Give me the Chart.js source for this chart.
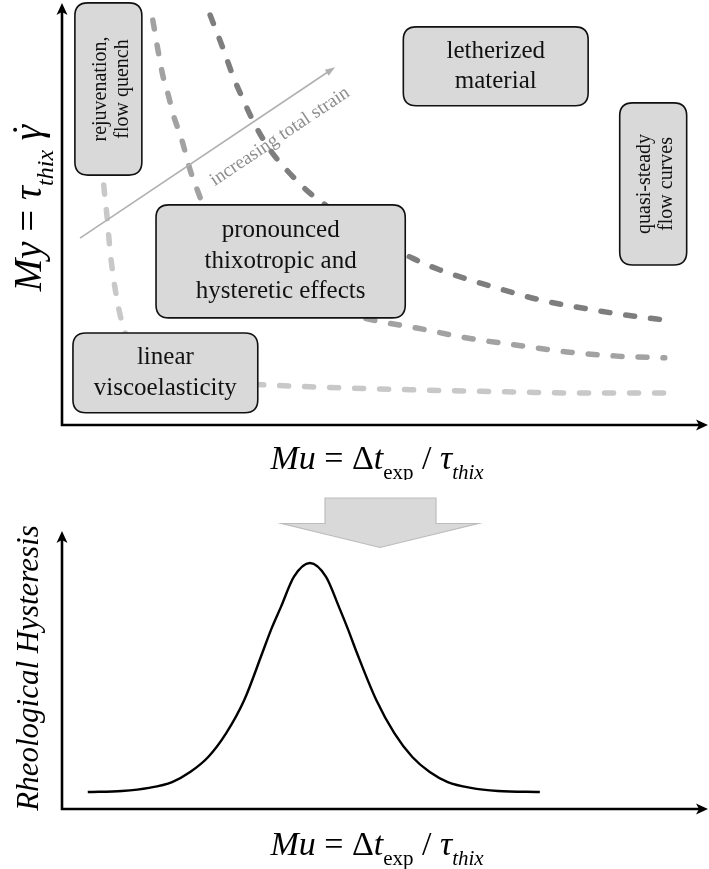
<!DOCTYPE html>
<html>
<head>
<meta charset="utf-8">
<script src="https://cdn.jsdelivr.net/npm/chart.js@4.4.1/dist/chart.umd.min.js"></script>
<style>
  html, body { margin: 0; padding: 0; background: #fff; }
  #wrap { position: relative; width: 709px; height: 869px; overflow: hidden; }
  canvas { position: absolute; left: 0; display: block; }
  #mapChart { top: 0; }
  #hystChart { top: 480px; }
</style>
</head>
<body>
<div id="wrap">
  <canvas id="mapChart" width="709" height="480"></canvas>
  <canvas id="hystChart" width="709" height="389"></canvas>
</div>
<script>
// Mu (x) and My (y) on relative 0–100 scales.
// Iso-strain contours, from low to high total strain.
const lowStrainMu  = [5.9, 6.4, 7.0, 7.5, 8.2, 9.3, 11.3, 15.2, 21.4, 32.3, 44.3, 56.7, 69.1, 81.5, 93.6];
const lowStrainMy  = [75.0, 59.0, 49.5, 41.0, 32.9, 24.5, 17.4, 12.6, 10.5, 9.5, 8.8, 8.3, 7.9, 7.6, 7.6];
const midStrainMu  = [14.1, 14.9, 15.7, 16.5, 17.2, 18.6, 19.9, 21.0, 23.0, 26.1, 30.8, 37.0, 43.2, 49.8, 55.1, 62.9, 70.7, 78.4, 86.2, 93.6];
const midStrainMy  = [96.4, 89.3, 82.9, 78.6, 74.3, 67.9, 60.7, 56.0, 48.3, 41.7, 35.0, 30.2, 26.9, 24.5, 23.1, 20.7, 19.0, 17.4, 16.4, 16.0];
const highStrainMu = [23.0, 24.8, 26.6, 28.3, 30.0, 32.3, 34.9, 38.5, 40.5, 43.9, 47.8, 54.3, 58.7, 66.5, 74.2, 82.5, 89.8, 93.6];
const highStrainMy = [97.6, 90.5, 82.9, 76.9, 71.4, 65.5, 60.7, 55.2, 52.9, 48.8, 45.2, 39.8, 36.9, 33.1, 29.8, 27.4, 25.7, 25.0];

// Rheological hysteresis versus Mu.
const hystMu    = [4.0, 9.3, 13.5, 17.1, 19.9, 22.7, 25.5, 28.3, 31.1, 32.5, 34.0, 36.0, 38.5, 41.0, 43.0, 44.4, 45.8, 48.8, 51.6, 54.4, 57.1, 59.9, 63.5, 67.7, 74.2];
const hystValue = [6.1, 6.5, 7.6, 9.7, 13.3, 18.7, 27.3, 39.2, 56.1, 64.7, 72.7, 83.5, 88.5, 83.5, 72.7, 64.7, 56.1, 39.2, 27.3, 18.7, 13.3, 9.7, 7.6, 6.5, 6.1];

// Regime labels and their extents in (Mu, My) units.
const regimeLabels = [
  { lines: ['rejuvenation,', 'flow quench'], vertical: true,  x1: 2.0,  x2: 12.4, y1: 59.5, y2: 100.5 },
  { lines: ['letherized', 'material'],        vertical: false, x1: 53.0, x2: 81.7, y1: 76.0, y2: 94.8 },
  { lines: ['quasi-steady', 'flow curves'],   vertical: true,  x1: 86.6, x2: 97.0, y1: 38.1, y2: 76.7 },
  { lines: ['pronounced', 'thixotropic and', 'hysteretic effects'], vertical: false, x1: 14.6, x2: 53.3, y1: 25.5, y2: 52.4 },
  { lines: ['linear', 'viscoelasticity'],     vertical: false, x1: 1.7,  x2: 30.4, y1: 2.9,  y2: 21.9 }
];
// Direction of increasing total strain, in (Mu, My) units.
const strainArrow = { from: [2.8, 44.5], to: [42.4, 85.2], text: 'increasing total strain' };

const SERIF = '"Liberation Serif", "Times New Roman", Times, serif';

function pts(xs, ys) { return xs.map((x, i) => ({ x, y: ys[i] })); }

function fontFor(seg, size) {
  const s = seg.sub ? Math.round(size * 0.62) : size;
  return (seg.it ? 'italic ' : '') + s + 'px ' + SERIF;
}

// Draws a run of mixed italic / subscript segments centred at (cx, cy).
function richText(ctx, segs, size, cx, cy, rot) {
  ctx.save();
  ctx.translate(cx, cy);
  ctx.rotate(rot);
  ctx.fillStyle = '#000';
  ctx.textBaseline = 'alphabetic';
  ctx.textAlign = 'left';
  const widths = segs.map(s => { ctx.font = fontFor(s, size); return ctx.measureText(s.t).width; });
  const total = widths.reduce((a, b) => a + b, 0);
  let x = -total / 2;
  const base = size * 0.33;
  segs.forEach((s, i) => {
    ctx.font = fontFor(s, size);
    ctx.fillText(s.t, x, base + (s.sub ? size * 0.3 : 0));
    if (s.dot) {
      ctx.beginPath();
      ctx.arc(x + widths[i] * 0.68, base - size * 0.66, size * 0.05, 0, Math.PI * 2);
      ctx.fill();
    }
    x += widths[i];
  });
  ctx.restore();
}

function drawAxes(ctx, left, bottom, tipTop, tipRight) {
  ctx.save();
  ctx.strokeStyle = '#000';
  ctx.fillStyle = '#000';
  ctx.lineWidth = 2.6;
  ctx.beginPath();
  ctx.moveTo(left, bottom + 1.3);
  ctx.lineTo(left, tipTop + 8);
  ctx.moveTo(left - 1.3, bottom);
  ctx.lineTo(tipRight - 8, bottom);
  ctx.stroke();
  ctx.beginPath();
  ctx.moveTo(left, tipTop);
  ctx.lineTo(left - 5.5, tipTop + 12);
  ctx.lineTo(left, tipTop + 9);
  ctx.lineTo(left + 5.5, tipTop + 12);
  ctx.closePath();
  ctx.fill();
  ctx.beginPath();
  ctx.moveTo(tipRight, bottom);
  ctx.lineTo(tipRight - 12, bottom - 5.5);
  ctx.lineTo(tipRight - 9, bottom);
  ctx.lineTo(tipRight - 12, bottom + 5.5);
  ctx.closePath();
  ctx.fill();
  ctx.restore();
}

function roundRect(ctx, x, y, w, h, r) {
  ctx.beginPath();
  ctx.moveTo(x + r, y);
  ctx.lineTo(x + w - r, y);
  ctx.quadraticCurveTo(x + w, y, x + w, y + r);
  ctx.lineTo(x + w, y + h - r);
  ctx.quadraticCurveTo(x + w, y + h, x + w - r, y + h);
  ctx.lineTo(x + r, y + h);
  ctx.quadraticCurveTo(x, y + h, x, y + h - r);
  ctx.lineTo(x, y + r);
  ctx.quadraticCurveTo(x, y, x + r, y);
  ctx.closePath();
}

const muLabel = [
  { t: 'Mu', it: true }, { t: ' = ' }, { t: 'Δ' }, { t: 't', it: true },
  { t: 'exp', sub: true }, { t: ' / ' }, { t: 'τ', it: true }, { t: 'thix', it: true, sub: true }
];

const mapDecor = {
  id: 'mapDecor',
  afterDatasetsDraw(chart) {
    const { ctx, chartArea: a, scales: { x, y } } = chart;

    // strain direction arrow
    const x0 = x.getPixelForValue(strainArrow.from[0]), y0 = y.getPixelForValue(strainArrow.from[1]);
    const x1 = x.getPixelForValue(strainArrow.to[0]),   y1 = y.getPixelForValue(strainArrow.to[1]);
    const ang = Math.atan2(y1 - y0, x1 - x0);
    const len = Math.hypot(x1 - x0, y1 - y0);
    ctx.save();
    ctx.translate(x0, y0);
    ctx.rotate(ang);
    ctx.strokeStyle = '#b0b0b0';
    ctx.fillStyle = '#b0b0b0';
    ctx.lineWidth = 1.6;
    ctx.beginPath(); ctx.moveTo(0, 0); ctx.lineTo(len - 6, 0); ctx.stroke();
    ctx.beginPath(); ctx.moveTo(len, 0); ctx.lineTo(len - 10, -3.5); ctx.lineTo(len - 10, 3.5); ctx.closePath(); ctx.fill();
    ctx.fillStyle = '#8e8e8e';
    ctx.font = '19px ' + SERIF;
    ctx.textAlign = 'center';
    ctx.textBaseline = 'middle';
    ctx.fillText(strainArrow.text, len * 0.725, 27);
    ctx.restore();

    // regime boxes
    regimeLabels.forEach(r => {
      const l = x.getPixelForValue(r.x1), rt = x.getPixelForValue(r.x2);
      const t = y.getPixelForValue(r.y2), b = y.getPixelForValue(r.y1);
      ctx.save();
      roundRect(ctx, l, t, rt - l, b - t, 13);
      ctx.fillStyle = '#d9d9d9';
      ctx.fill();
      ctx.lineWidth = 1.6;
      ctx.strokeStyle = '#111';
      ctx.stroke();
      ctx.fillStyle = '#111';
      ctx.textAlign = 'center';
      ctx.textBaseline = 'middle';
      const cx = (l + rt) / 2, cy = (t + b) / 2;
      if (r.vertical) {
        ctx.translate(cx, cy);
        ctx.rotate(-Math.PI / 2);
        ctx.font = '20px ' + SERIF;
        const lh = 22;
        r.lines.forEach((s, i) => ctx.fillText(s, 0, (i - (r.lines.length - 1) / 2) * lh + 3));
      } else {
        ctx.font = '25px ' + SERIF;
        const lh = 30.5;
        r.lines.forEach((s, i) => ctx.fillText(s, cx, cy + (i - (r.lines.length - 1) / 2) * lh));
      }
      ctx.restore();
    });

    drawAxes(ctx, a.left, a.bottom, 3, 708);

    // axis titles
    richText(ctx, muLabel, 34, 377, 458, 0);
    richText(ctx, [
      { t: 'My', it: true }, { t: ' = ' }, { t: 'τ', it: true }, { t: 'thix', it: true, sub: true },
      { t: ' ' }, { t: 'γ', it: true, dot: true }
    ], 39, 28, 208, -Math.PI / 2);
  }
};

const hystDecor = {
  id: 'hystDecor',
  afterDatasetsDraw(chart) {
    const { ctx, chartArea: a } = chart;

    // block arrow leading down from the regime map
    ctx.save();
    ctx.beginPath();
    ctx.moveTo(325, 18);
    ctx.lineTo(436, 18);
    ctx.lineTo(436, 43.5);
    ctx.lineTo(478, 43.5);
    ctx.lineTo(380, 67.5);
    ctx.lineTo(282, 43.5);
    ctx.lineTo(325, 43.5);
    ctx.closePath();
    ctx.fillStyle = '#d9d9d9';
    ctx.fill();
    ctx.strokeStyle = '#bdbdbd';
    ctx.lineWidth = 1.2;
    ctx.stroke();
    ctx.restore();

    drawAxes(ctx, a.left, a.bottom, a.top, 708);

    richText(ctx, muLabel, 34, 377, 364, 0);
    ctx.save();
    ctx.translate(30, 188);
    ctx.rotate(-Math.PI / 2);
    ctx.font = 'italic 31px ' + SERIF;
    ctx.fillStyle = '#000';
    ctx.textAlign = 'center';
    ctx.textBaseline = 'middle';
    ctx.fillText('Rheological Hysteresis', 0, 0);
    ctx.restore();
  }
};

function dashed(data, color) {
  return {
    data, showLine: true, borderColor: color, borderWidth: 5.5,
    borderDash: [9, 16], borderCapStyle: 'round', pointRadius: 0,
    cubicInterpolationMode: 'monotone', fill: false
  };
}

const hiddenScales = {
  x: { type: 'linear', min: 0, max: 100, display: false },
  y: { type: 'linear', min: 0, max: 100, display: false }
};

new Chart(document.getElementById('mapChart'), {
  type: 'scatter',
  data: {
    datasets: [
      dashed(pts(lowStrainMu, lowStrainMy), '#c8c8c8'),
      dashed(pts(midStrainMu, midStrainMy), '#a2a2a2'),
      dashed(pts(highStrainMu, highStrainMy), '#7e7e7e')
    ]
  },
  options: {
    responsive: false, animation: false, events: [],
    layout: { padding: { left: 62, right: 3, top: 5, bottom: 55 } },
    scales: hiddenScales,
    plugins: { legend: { display: false }, tooltip: { enabled: false } }
  },
  plugins: [mapDecor]
});

new Chart(document.getElementById('hystChart'), {
  type: 'scatter',
  data: {
    datasets: [{
      data: pts(hystMu, hystValue), showLine: true, borderColor: '#000', borderWidth: 2.4,
      pointRadius: 0, cubicInterpolationMode: 'monotone', fill: false
    }]
  },
  options: {
    responsive: false, animation: false, events: [],
    layout: { padding: { left: 62, right: 3, top: 51, bottom: 60 } },
    scales: hiddenScales,
    plugins: { legend: { display: false }, tooltip: { enabled: false } }
  },
  plugins: [hystDecor]
});
</script>
</body>
</html>
